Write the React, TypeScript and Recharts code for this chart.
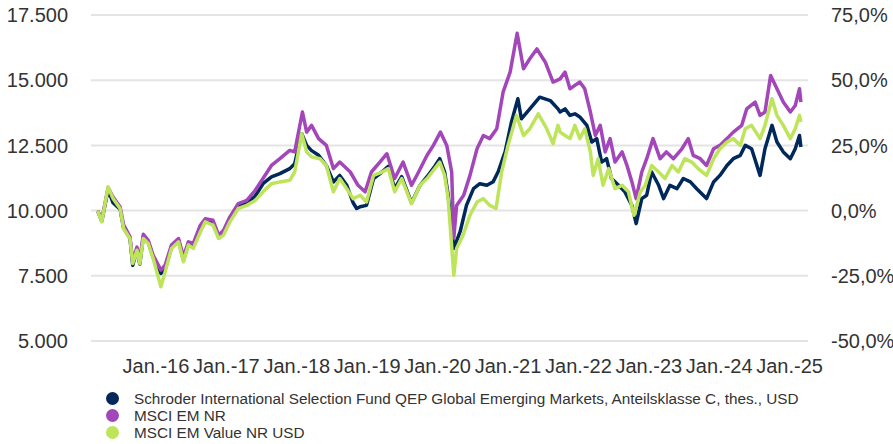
import { LineChart, Line, XAxis, YAxis, CartesianGrid, Legend } from "recharts"

// Schroder fund (indexed to 10.000)
const fundDates = [
  2015.17, 2015.23, 2015.32, 2015.39, 2015.49, 2015.54, 2015.63, 2015.67, 2015.73, 2015.77, 2015.82, 2015.89, 2015.96,
  2016.07, 2016.13, 2016.22, 2016.32, 2016.39, 2016.46, 2016.53, 2016.63, 2016.7, 2016.81, 2016.89, 2016.96,
  2017.05, 2017.17, 2017.29, 2017.41, 2017.52, 2017.64, 2017.76, 2017.9, 2017.97, 2018.07,
  2018.14, 2018.21, 2018.31, 2018.42, 2018.52, 2018.61, 2018.71, 2018.8, 2018.85, 2018.9, 2018.99,
  2019.09, 2019.21, 2019.3, 2019.39, 2019.49, 2019.63, 2019.75, 2019.85, 2019.96,
  2020.03, 2020.1, 2020.15, 2020.23, 2020.32, 2020.41, 2020.51, 2020.6, 2020.7, 2020.79, 2020.86, 2020.96,
  2021.05, 2021.14, 2021.19, 2021.31, 2021.45, 2021.6, 2021.71, 2021.74, 2021.81, 2021.88, 2021.95,
  2022.02, 2022.12, 2022.19, 2022.26, 2022.33, 2022.4, 2022.47, 2022.57, 2022.66, 2022.76, 2022.82, 2022.9, 2022.97,
  2023.04, 2023.14, 2023.21, 2023.3, 2023.4, 2023.49, 2023.59, 2023.68, 2023.82, 2023.92,
  2024.01, 2024.11, 2024.2, 2024.3, 2024.37, 2024.46, 2024.58, 2024.65, 2024.75, 2024.82, 2024.91,
  2025.01, 2025.08, 2025.14, 2025.16,
]
const fundValues = [
  10000, 9600, 10800, 10300, 10050, 9330, 8950, 7900, 8500, 7950, 8990, 8790, 8200,
  7590, 7750, 8600, 8850, 8100, 8730, 8620, 9280, 9640, 9530, 8980, 9120,
  9650, 10150, 10280, 10560, 11030, 11290, 11420, 11610, 11800, 12950,
  12500, 12300, 12120, 11730, 11100, 11350, 10970, 10300, 10080, 10150, 10200,
  11230, 11480, 11700, 10840, 11300, 10300, 10970, 11300, 11700,
  11990, 11480, 10600, 8550, 9190, 10200, 10840, 11030, 10970, 11110, 11490, 12260,
  13410, 14290, 13520, 13900, 14350, 14220, 13900, 13780, 13900, 13650, 13710,
  13590, 13270, 12630, 12760, 11860, 11990, 11230, 10970, 10720, 10200, 9500, 10460, 10590,
  11480, 10970, 10460, 10970, 10840, 11230, 11100, 10840, 10460, 11100,
  11350, 11730, 11990, 12120, 12500, 12370, 11350, 12370, 13270, 12630, 12250,
  11990, 12370, 12880, 12440,
]

// MSCI EM NR
const emDates = [
  2015.17, 2015.23, 2015.32, 2015.39, 2015.49, 2015.54, 2015.63, 2015.67, 2015.73, 2015.77, 2015.82, 2015.89, 2015.96,
  2016.07, 2016.13, 2016.22, 2016.32, 2016.39, 2016.46, 2016.53, 2016.63, 2016.7, 2016.81, 2016.89, 2016.96,
  2017.05, 2017.17, 2017.29, 2017.41, 2017.52, 2017.64, 2017.76, 2017.9, 2017.97, 2018.08,
  2018.14, 2018.21, 2018.31, 2018.42, 2018.52, 2018.61, 2018.76, 2018.87, 2018.97,
  2019.06, 2019.18, 2019.28, 2019.39, 2019.51, 2019.63, 2019.73, 2019.85, 2019.94,
  2020.04, 2020.13, 2020.2, 2020.23, 2020.27, 2020.37, 2020.46, 2020.56, 2020.65, 2020.74, 2020.84, 2020.93,
  2021.03, 2021.13, 2021.22, 2021.31, 2021.41, 2021.53, 2021.64, 2021.74, 2021.81, 2021.88, 2021.95,
  2022.02, 2022.09, 2022.17, 2022.24, 2022.31, 2022.38, 2022.45, 2022.52, 2022.62, 2022.69, 2022.76, 2022.82, 2022.9, 2022.97,
  2023.06, 2023.16, 2023.25, 2023.35, 2023.47, 2023.56, 2023.63, 2023.73, 2023.82, 2023.92,
  2024.01, 2024.11, 2024.2, 2024.32, 2024.39, 2024.51, 2024.58, 2024.65, 2024.73, 2024.82, 2024.91,
  2025.01, 2025.08, 2025.14, 2025.16,
]
const emValues = [
  10000, 9650, 10880, 10520, 10150, 9450, 9000, 8050, 8600, 8080, 9090, 8860, 8290,
  7720, 7910, 8680, 8930, 8230, 8800, 8740, 9440, 9690, 9630, 9060, 9250,
  9760, 10270, 10390, 10780, 11230, 11730, 11990, 12310, 12250, 13780,
  13010, 13270, 12760, 12500, 11610, 11860, 11480, 10970, 10720,
  11480, 11860, 12180, 11230, 11860, 10970, 11480, 12120, 12500,
  13010, 12500, 11480, 8950, 10200, 10590, 11350, 12370, 12880, 12760, 13140, 14540,
  15310, 16800, 15440, 15820, 16200, 15690, 14930, 15050, 15310, 14670, 14800,
  14930, 14670, 13780, 12880, 13270, 12250, 12760, 11860, 12250, 11730, 11100, 10460, 11480, 11990,
  12760, 11990, 12250, 11990, 12370, 12760, 12120, 11990, 11730, 12370,
  12500, 12760, 13010, 13270, 13900, 14160, 13650, 13780, 15180, 14670, 14160,
  13780, 14030, 14670, 14160,
]

// MSCI EM Value NR USD
const valueDates = [
  2015.17, 2015.23, 2015.32, 2015.39, 2015.49, 2015.54, 2015.63, 2015.67, 2015.73, 2015.77, 2015.82, 2015.89, 2015.96,
  2016.07, 2016.13, 2016.22, 2016.32, 2016.39, 2016.46, 2016.53, 2016.63, 2016.7, 2016.81, 2016.89, 2016.96,
  2017.05, 2017.17, 2017.29, 2017.41, 2017.52, 2017.64, 2017.76, 2017.9, 2017.97, 2018.07,
  2018.14, 2018.21, 2018.33, 2018.42, 2018.52, 2018.61, 2018.71, 2018.8, 2018.9, 2018.99,
  2019.09, 2019.21, 2019.3, 2019.39, 2019.49, 2019.63, 2019.75, 2019.85, 2019.96,
  2020.03, 2020.1, 2020.15, 2020.23, 2020.27, 2020.36, 2020.46, 2020.56, 2020.65, 2020.74, 2020.83, 2020.91,
  2021.0, 2021.12, 2021.22, 2021.31, 2021.43, 2021.55, 2021.64, 2021.71, 2021.74, 2021.81, 2021.88, 2021.95,
  2022.02, 2022.09, 2022.17, 2022.21, 2022.28, 2022.35, 2022.43, 2022.52, 2022.62, 2022.71, 2022.79, 2022.88, 2022.95,
  2023.04, 2023.14, 2023.23, 2023.33, 2023.42, 2023.51, 2023.61, 2023.7, 2023.82, 2023.92,
  2024.01, 2024.11, 2024.2, 2024.3, 2024.37, 2024.46, 2024.58, 2024.65, 2024.75, 2024.82, 2024.91,
  2025.01, 2025.08, 2025.14, 2025.16,
]
const valueValues = [
  10000, 9570, 10910, 10460, 10080, 9310, 8930, 7970, 8480, 7970, 8930, 8740, 8160,
  7080, 7650, 8550, 8800, 8040, 8680, 8550, 9180, 9570, 9440, 8930, 9060,
  9570, 10080, 10200, 10390, 10720, 11030, 11100, 11160, 11480, 12950,
  12250, 12060, 11990, 11730, 10720, 11230, 10840, 10460, 10590, 10330,
  11350, 11480, 11610, 10720, 11230, 10270, 10970, 11230, 11610,
  11860, 11350, 10460, 7520, 8550, 9050, 9820, 10330, 10460, 10200, 10080, 11480,
  12500, 13650, 12880, 13140, 13710, 13140, 12570, 13270, 13010, 12880, 12760, 13270,
  12760, 13140, 12250, 11350, 11990, 10970, 11610, 10840, 10970, 10720, 9820, 10720, 10970,
  11730, 11480, 11230, 11730, 11480, 11990, 11860, 11610, 11350, 11990,
  12370, 12630, 12760, 12500, 13140, 13270, 12760, 13270, 14290, 13650, 13270,
  12760, 13140, 13650, 13400,
]

const seriesNames = [
  "Schroder International Selection Fund QEP Global Emerging Markets, Anteilsklasse C, thes., USD",
  "MSCI EM NR",
  "MSCI EM Value NR USD",
]
const leftTicks = [5000, 7500, 10000, 12500, 15000, 17500]
const rightTicks = [-50, -25, 0, 25, 50, 75]
const yearTicks = [2016, 2017, 2018, 2019, 2020, 2021, 2022, 2023, 2024, 2025]

const colors = ["#00285a", "#a246b9", "#bde45a"]
const textColor = "#333333"

const toSeries = (dates: number[], values: number[]) => dates.map((t, i) => ({ t, v: values[i] }))

const fmtThousands = (v: number) => `${Math.floor(v / 1000)}.${String(v % 1000).padStart(3, "0")}`
const fmtPercent = (v: number) => `${v.toFixed(1).replace(".", ",")}%`
const fmtYear = (v: number) => `Jan.-${String(v).slice(2)}`

function LegendBox() {
  return (
    <div style={{ height: 54, paddingTop: 1, fontSize: 15.3, color: textColor }}>
      {seriesNames.map((name, i) => (
        <div key={name} style={{ display: "flex", alignItems: "center", height: 17 }}>
          <span
            style={{
              display: "inline-block",
              width: 13,
              height: 13,
              borderRadius: "50%",
              background: colors[i],
              marginRight: 15,
            }}
          />
          <span style={{ whiteSpace: "nowrap" }}>{name}</span>
        </div>
      ))}
    </div>
  )
}

export default function App() {
  const series = [
    toSeries(fundDates, fundValues),
    toSeries(emDates, emValues),
    toSeries(valueDates, valueValues),
  ]

  return (
    <div style={{ position: "absolute", left: 0, top: 0, fontFamily: '"Liberation Sans", Arial, sans-serif' }}>
      <LineChart width={893} height={444} margin={{ top: 15, right: 0, bottom: 0, left: 0 }}>
        <CartesianGrid yAxisId="left" vertical={false} stroke="#e4e4e4" strokeWidth={2} />
        <XAxis
          dataKey="t"
          type="number"
          domain={[2015.077, 2025.261]}
          ticks={yearTicks}
          interval={0}
          tickFormatter={fmtYear}
          axisLine={false}
          tickLine={false}
          tickSize={0}
          tickMargin={18}
          height={48}
          tick={{ fill: textColor, fontSize: 20 }}
          allowDataOverflow
        />
        <YAxis
          yAxisId="left"
          type="number"
          domain={[5000, 17500]}
          ticks={leftTicks}
          tickFormatter={fmtThousands}
          axisLine={false}
          tickLine={false}
          tickSize={0}
          tickMargin={23}
          width={91}
          tick={{ fill: textColor, fontSize: 20 }}
          allowDataOverflow
        />
        <YAxis
          yAxisId="right"
          orientation="right"
          type="number"
          domain={[-50, 75]}
          ticks={rightTicks}
          tickFormatter={fmtPercent}
          axisLine={false}
          tickLine={false}
          tickSize={0}
          tickMargin={23}
          width={85}
          tick={{ fill: textColor, fontSize: 20 }}
          allowDataOverflow
        />
        <Legend
          verticalAlign="bottom"
          align="left"
          content={<LegendBox />}
          wrapperStyle={{ left: 106, width: 780 }}
        />
        {series.map((data, i) => (
          <Line
            key={seriesNames[i]}
            yAxisId="left"
            data={data}
            dataKey="v"
            name={seriesNames[i]}
            type="linear"
            stroke={colors[i]}
            strokeWidth={3.5}
            strokeLinejoin="round"
            dot={false}
            activeDot={false}
            isAnimationActive={false}
          />
        ))}
      </LineChart>
    </div>
  )
}
